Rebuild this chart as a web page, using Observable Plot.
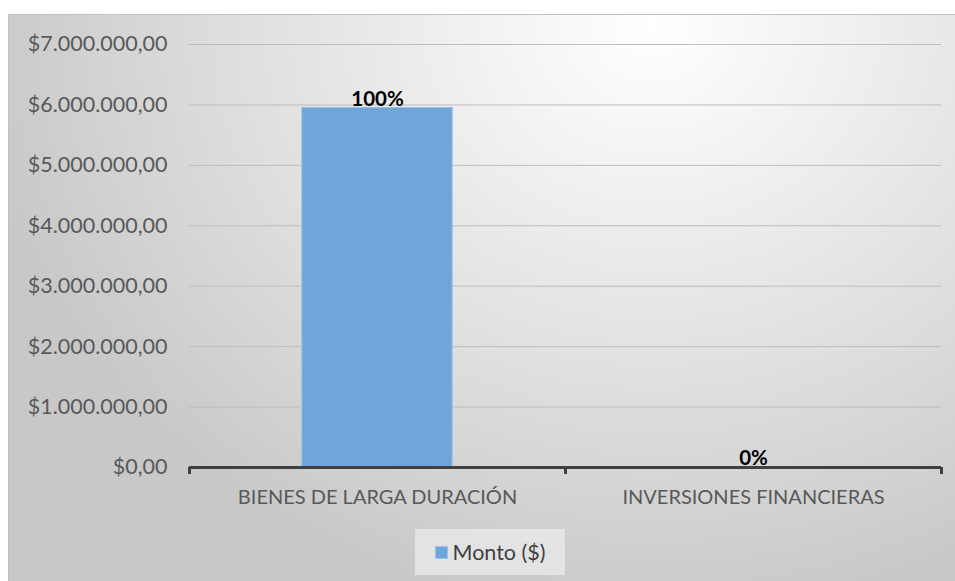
<!DOCTYPE html>
<html>
<head>
<meta charset="utf-8">
<script src="https://cdn.jsdelivr.net/npm/d3@7"></script>
<script src="https://cdn.jsdelivr.net/npm/@observablehq/plot@0.6"></script>
<style>
  html, body { margin: 0; padding: 0; background: #ffffff; width: 955px; height: 581px; overflow: hidden; }
  #chart {
    position: absolute; left: 8px; top: 14px; width: 947px; height: 567px;
    background: radial-gradient(ellipse 72% 105% at 68% 2%, #ffffff 0%, #f2f2f2 25%, #dedede 62%, #c8c8c8 100%);
    border-top: 1px solid #c0c0c0; border-left: 1px solid #c0c0c0; box-sizing: border-box;
    font-family: Lato, "Open Sans", sans-serif;
  }
  #legend {
    position: absolute; left: 406px; top: 514px; width: 150px; height: 46px;
    background: rgba(232,232,232,0.8);
    display: flex; align-items: center; justify-content: center; gap: 5px;
    color: #404040; font-size: 21.5px; font-family: Lato, "Open Sans", sans-serif;
  }
  #legend .sw { width: 11px; height: 11px; background: #6fa5d8; border: 1px solid #9cc2ea; }
</style>
</head>
<body>
<div id="chart"></div>
<script>
const categories = ["BIENES DE LARGA DURACIÓN", "INVERSIONES FINANCIERAS"];
const montos = [5950000, 0];
const yTicks = [0, 1000000, 2000000, 3000000, 4000000, 5000000, 6000000, 7000000];
const seriesName = "Monto ($)";

const total = d3.sum(montos);
const data = categories.map((c, i) => ({
  cat: c, i, pos: i + 0.5, value: montos[i],
  pct: d3.format(".0%")(total ? montos[i] / total : 0)
}));

const locale = d3.formatLocale({decimal: ",", thousands: ".", grouping: [3], currency: ["$", ""]});
const money = locale.format("$,.2f");

const plot = Plot.plot({
  width: 946,
  height: 510,
  marginTop: 29,
  marginBottom: 58,
  marginLeft: 180,
  marginRight: 14,
  style: {background: "transparent", fontFamily: "Lato, 'Open Sans', sans-serif", overflow: "visible"},
  x: {domain: [0, categories.length], axis: null, label: null},
  y: {domain: [0, 7000000], axis: null, label: null},
  marks: [
    Plot.gridY(yTicks.filter(d => d > 0), {stroke: "#bdbdbd", strokeOpacity: 1, strokeWidth: 1}),
    Plot.axisY(yTicks, {tickSize: 0, tickPadding: 22, tickFormat: money, fontSize: 21.5, fill: "#595959", label: null}),
    Plot.rectY(data, {x1: d => d.pos - 0.2, x2: d => d.pos + 0.2, y: "value", fill: "#6fa5d8", stroke: "#9cc2ea", strokeWidth: 1}),
    Plot.ruleY([0], {stroke: "#404040", strokeWidth: 3}),
    Plot.axisX(d3.range(categories.length + 1), {tickSize: 7, tickFormat: () => "", stroke: "#404040", strokeWidth: 3, label: null}),
    Plot.axisX(data.map(d => d.pos), {tickSize: 0, tickPadding: 22, tickFormat: (d, k) => categories[k], fontSize: 20, fill: "#595959", label: null}),
    Plot.text(data, {x: "pos", y: "value", text: "pct", dy: -9, fontWeight: "bold", fontSize: 20.5, fill: "#000000"})
  ]
});

const chart = document.getElementById("chart");
chart.appendChild(plot);
const legend = document.createElement("div");
legend.id = "legend";
legend.innerHTML = `<span class="sw"></span><span>${seriesName}</span>`;
chart.appendChild(legend);
</script>
</body>
</html>
